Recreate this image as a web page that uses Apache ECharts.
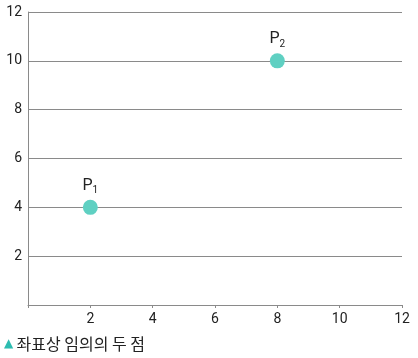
<!DOCTYPE html>
<html><head><meta charset="utf-8">
<script src="https://cdn.jsdelivr.net/npm/echarts@6/dist/echarts.min.js"></script>
<style>html,body{margin:0;padding:0;background:#fff}#c{width:418px;height:358px}</style>
</head><body><div id="c"></div>
<script>
const xTicks = [0, 2, 4, 6, 8, 10, 12];
const yTicks = [0, 2, 4, 6, 8, 10, 12];
const pointNames = ['1', '2'];
const pointX = [2, 8];
const pointY = [4, 10];
const caption = '좌표상 임의의 두 점';

const chart = echarts.init(document.getElementById('c'));
const axisColor = '#8a8a8a';
chart.setOption({
  animation: false,
  grid: { left: 28, right: 16, top: 12, bottom: 53, containLabel: false },
  xAxis: {
    type: 'value', min: 0, max: 12, interval: 2,
    axisLine: { show: true, lineStyle: { color: axisColor, width: 1 } },
    axisTick: { show: true, length: 3, lineStyle: { color: axisColor } },
    splitLine: { show: false },
    axisLabel: { color: '#222', fontSize: 14, fontFamily: 'Roboto, Noto Sans', margin: 7,
      formatter: v => v === 0 ? '' : String(v) }
  },
  yAxis: {
    type: 'value', min: 0, max: 12, interval: 2,
    axisLine: { show: true, lineStyle: { color: axisColor, width: 1 } },
    axisTick: { show: false },
    splitLine: { show: true, lineStyle: { color: axisColor, width: 1 } },
    axisLabel: { color: '#222', fontSize: 14, fontFamily: 'Roboto, Noto Sans', margin: 6,
      formatter: v => v === 0 ? '' : String(v) }
  },
  series: [{
    type: 'scatter',
    symbolSize: 15,
    itemStyle: { color: '#5fd0c2', opacity: 1 },
    data: pointX.map((x, i) => ({ value: [x, pointY[i]], name: pointNames[i] })),
    label: {
      show: true, position: 'top', distance: 4,
      formatter: p => '{a|P}{b|' + p.name + '}',
      rich: {
        a: { fontSize: 16, color: '#222', fontFamily: 'Roboto, Noto Sans' },
        b: { fontSize: 10, color: '#222', fontFamily: 'Roboto, Noto Sans', padding: [10, 0, 0, 0] }
      }
    }
  }],
  graphic: [{
    type: 'text', left: 4, top: 336,
    style: {
      text: '{t|▲} {c|' + caption + '}',
      rich: {
        t: { fontSize: 12, fill: '#2cbcb0', fontFamily: 'DejaVu Sans' },
        c: { fontSize: 16, fill: '#222', fontFamily: 'Noto Sans CJK KR' }
      }
    }
  }]
});
</script></body></html>
